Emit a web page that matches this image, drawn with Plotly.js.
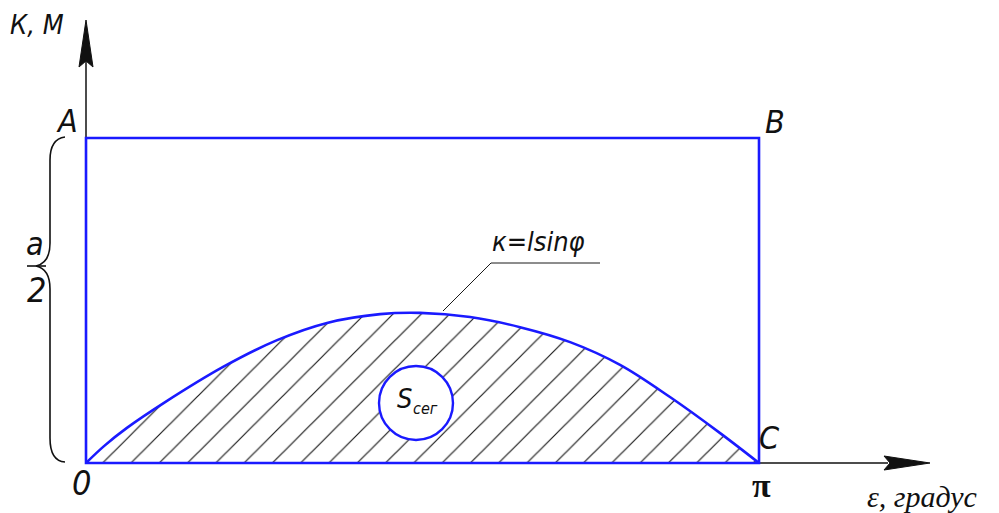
<!DOCTYPE html>
<html>
<head>
<meta charset="utf-8">
<script src="https://cdn.plot.ly/plotly-3.0.1.min.js"></script>
<style>
  html, body { margin: 0; padding: 0; background: #fff; }
  #chart { width: 999px; height: 513px; }
</style>
</head>
<body>
<div id="chart"></div>
<script>
// Curve k = l·sin(φ) (x in radians, y in units of a/2)
const epsilon = [0, 0.084, 0.191, 0.364, 0.644, 0.892, 1.125, 1.373, 1.559, 1.793, 2.026, 2.260, 2.493, 2.726, 2.960, 3.1416];
const kValues = [0, 0.052, 0.108, 0.185, 0.297, 0.378, 0.431, 0.458, 0.462, 0.449, 0.418, 0.372, 0.302, 0.203, 0.092, 0];

// Rectangle OABC: width π, height a/2
const rectX = [0, 3.1416];
const rectY = [0, 1];

const W = 999, H = 513;
const BLUE = '#1a1aff';
const INK = '#111';
const HATCH = '#1a1a1a';
const LABEL_FONT = 'Liberation Sans Narrow, DejaVu Sans Condensed, sans-serif';
const SERIF_FONT = 'Liberation Serif, DejaVu Serif, serif';

// pixel -> paper helpers (plot area covers the whole page)
function px(x) { return x / W; }
function py(y) { return 1 - y / H; }
function path(points, close) {
    return points.map((p, i) => (i ? 'L' : 'M') + px(p[0]) + ',' + py(p[1])).join(' ') + (close ? ' Z' : '');
}

const curve = {
    x: epsilon,
    y: kValues,
    type: 'scatter',
    mode: 'lines',
    line: { color: BLUE, width: 2.6, shape: 'spline', smoothing: 1 },
    fill: 'tozeroy',
    fillcolor: 'rgba(0,0,0,0)',
    fillpattern: { shape: '/', size: 20, solidity: 0.06, fgcolor: HATCH, bgcolor: 'rgba(0,0,0,0)' },
    hoverinfo: 'skip'
};

// Brace for a/2 on the left side
const bracePath = 'M' + px(65) + ',' + py(137) +
    ' Q' + px(50) + ',' + py(139) + ' ' + px(50) + ',' + py(160) +
    ' L' + px(50) + ',' + py(243) +
    ' Q' + px(50) + ',' + py(263) + ' ' + px(36) + ',' + py(266) +
    ' Q' + px(50) + ',' + py(269) + ' ' + px(50) + ',' + py(289) +
    ' L' + px(50) + ',' + py(438) +
    ' Q' + px(50) + ',' + py(461) + ' ' + px(65) + ',' + py(462);

const shapes = [
    // axes
    { type: 'line', xref: 'paper', yref: 'paper', x0: px(86), y0: py(463), x1: px(86), y1: py(62),
      line: { color: INK, width: 1.5 } },
    { type: 'line', xref: 'paper', yref: 'paper', x0: px(86), y0: py(463), x1: px(888), y1: py(463),
      line: { color: INK, width: 1.5 } },
    // arrow heads
    { type: 'path', xref: 'paper', yref: 'paper', path: path([[86, 20], [93, 67], [86, 61], [79, 67]], true),
      fillcolor: INK, line: { color: INK, width: 1 } },
    { type: 'path', xref: 'paper', yref: 'paper', path: path([[930, 463], [884, 456], [890, 463], [884, 470]], true),
      fillcolor: INK, line: { color: INK, width: 1 } },
    // rectangle O A B C
    { type: 'rect', xref: 'x', yref: 'y', x0: rectX[0], y0: rectY[0], x1: rectX[1], y1: rectY[1],
      line: { color: BLUE, width: 2.6 }, layer: 'above' },
    // leader line for the curve label
    { type: 'path', xref: 'paper', yref: 'paper', path: path([[443, 311], [491, 263], [600, 263]], false),
      line: { color: HATCH, width: 1 }, layer: 'above' },
    // circle around S_seg
    { type: 'circle', xref: 'paper', yref: 'paper', x0: px(379), y0: py(366), x1: px(453), y1: py(440),
      fillcolor: '#fff', line: { color: BLUE, width: 2.4 }, layer: 'above' },
    // brace and fraction bar
    { type: 'path', xref: 'paper', yref: 'paper', path: bracePath,
      line: { color: INK, width: 1.6 }, layer: 'above' },
    { type: 'line', xref: 'paper', yref: 'paper', x0: px(27), y0: py(266), x1: px(46), y1: py(266),
      line: { color: INK, width: 1.6 } }
];

function label(text, x, y, size, family, style, weight) {
    return {
        text: text, xref: 'paper', yref: 'paper', x: px(x), y: py(y),
        xanchor: 'center', yanchor: 'middle', showarrow: false,
        font: { family: family || LABEL_FONT, size: size, color: INK, style: style || 'italic', weight: weight || 'normal' }
    };
}

const annotations = [
    label('К, М', 37, 24, 27),
    label('A', 67, 121, 32),
    label('B', 775, 122, 32),
    label('C', 769, 438, 32),
    label('0', 81, 483, 34),
    label('π', 761, 485, 34, SERIF_FONT, 'normal', 'bold'),
    label('ε, градус', 922, 496, 30, SERIF_FONT),
    label('a', 35, 244, 32),
    label('2', 36, 290, 34),
    label('к=lsinφ', 538, 241, 27),
    label('S', 404, 398, 27),
    label('сег', 425, 408, 16)
];

const layout = {
    width: W,
    height: H,
    margin: { l: 0, r: 0, t: 0, b: 0 },
    paper_bgcolor: '#fff',
    plot_bgcolor: '#fff',
    showlegend: false,
    xaxis: { range: [-0.4015, 4.2619], visible: false, fixedrange: true },
    yaxis: { range: [-0.1538, 1.4246], visible: false, fixedrange: true },
    shapes: shapes,
    annotations: annotations
};

Plotly.newPlot('chart', [curve], layout, { staticPlot: true, displayModeBar: false });
</script>
</body>
</html>
